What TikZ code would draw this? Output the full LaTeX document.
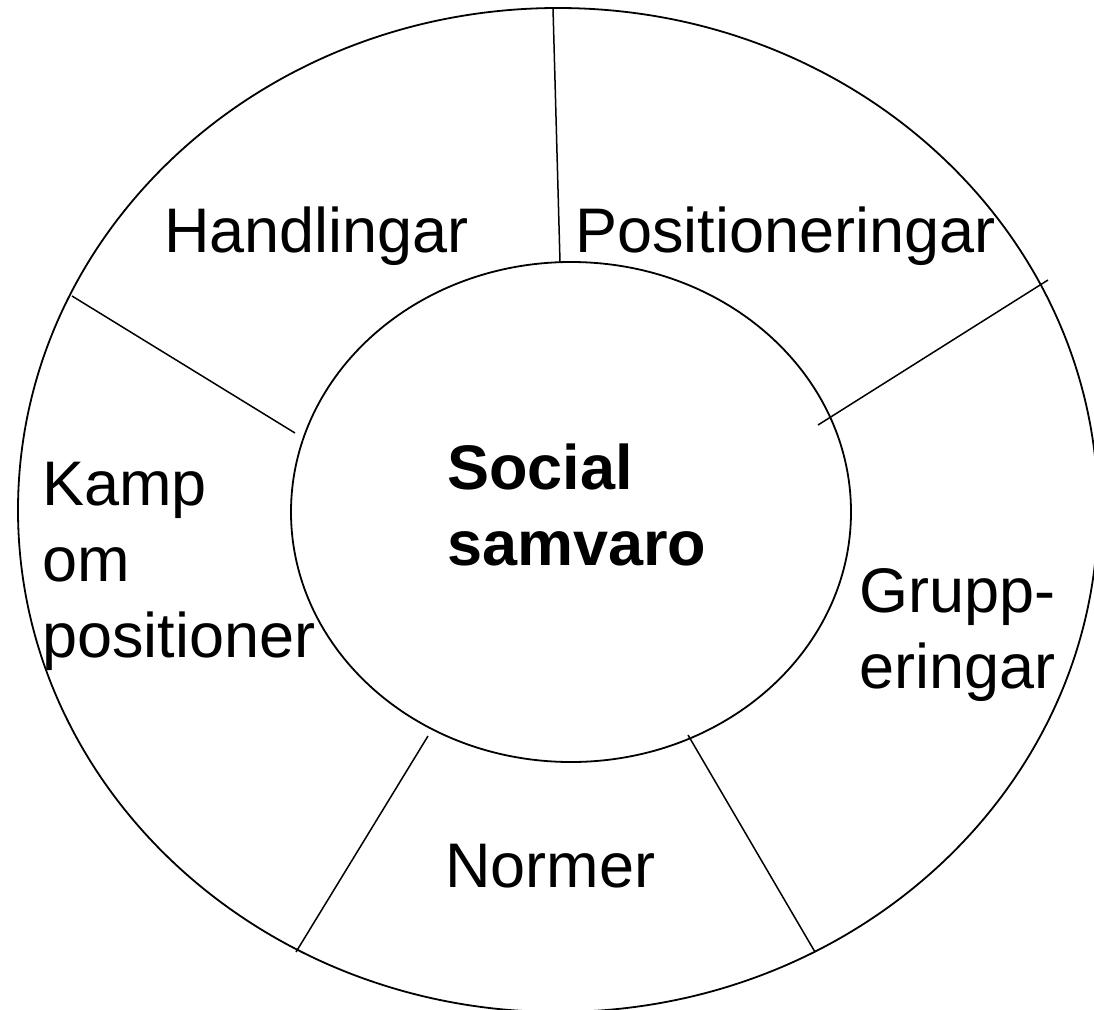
\documentclass[tikz,border=0pt]{standalone}
\usepackage{fontspec}
\setmainfont{Liberation Sans}

\begin{document}
\begin{tikzpicture}[x=1pt, y=-1pt,
    ring/.style={line width=1.8pt},
    spoke/.style={line width=1.5pt},
    field/.style={inner sep=0pt, anchor=base west, align=left,
      font=\fontsize{63}{76}\selectfont}]
    \useasboundingbox (0,0) rectangle (1094,1009);

    % Outer and inner rings
    \draw[ring] (558,510) ellipse [x radius=540pt, y radius=502pt];
    \draw[ring] (571,512) ellipse [x radius=280pt, y radius=250pt];

    % Spoke ends: inner ring (i) and outer ring (o)
    \coordinate (top i) at (560,262);   \coordinate (top o) at (553,8);
    \coordinate (ul i)  at (295,433);   \coordinate (ul o)  at (72,296);
    \coordinate (ur i)  at (818,425);   \coordinate (ur o)  at (1048,280);
    \coordinate (ll i)  at (428,736);   \coordinate (ll o)  at (296,952);
    \coordinate (lr i)  at (688,735);   \coordinate (lr o)  at (815,952);

    % Spokes
    \draw[spoke] (top i) -- (top o);
    \draw[spoke] (ul i) -- (ul o);
    \draw[spoke] (ur i) -- (ur o);
    \draw[spoke] (ll i) -- (ll o);
    \draw[spoke] (lr i) -- (lr o);

    % Fields (multi-line nodes sit on their last baseline)
    \node[field] (handl) at (164,252) {Handlingar};
    \node[field] (posit) at (575,252) {Positioneringar};
    \node[field] (kamp) at (42,657) {Kamp\\om\\positioner};
    \node[field] (grupp) at (859,688) {Grupp-\\eringar};
    \node[field] (norm) at (445,887) {Normer};

    % Centre
    \node[field, font=\fontsize{63}{76}\selectfont\bfseries] (social) at (447,565) {Social\\samvaro};
\end{tikzpicture}
\end{document}
